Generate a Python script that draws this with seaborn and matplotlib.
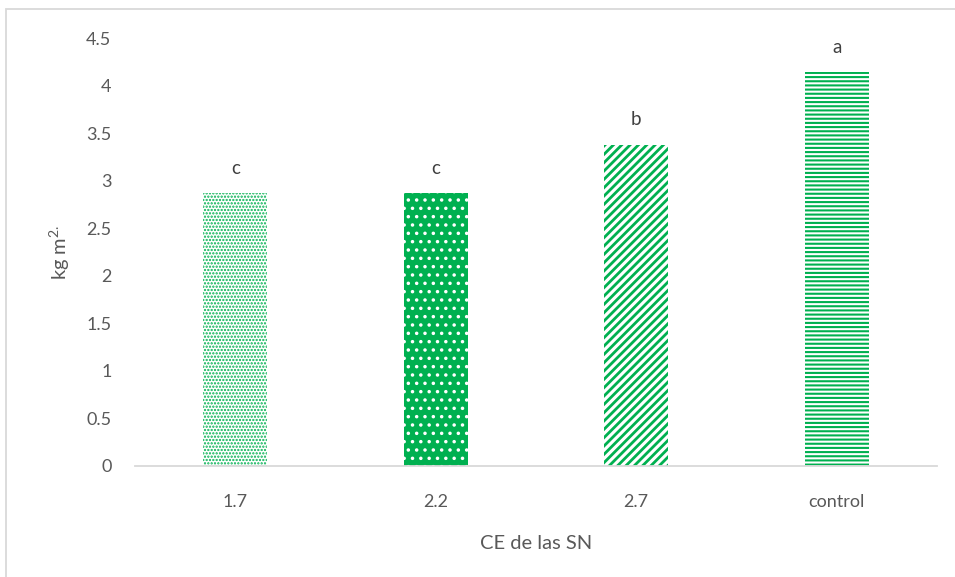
import matplotlib
matplotlib.use("Agg")
import matplotlib.pyplot as plt
import seaborn as sns
import pandas as pd
from matplotlib.patches import Rectangle

# Yield per treatment (kg m-2) and mean-separation letters
categories = ["1.7", "2.2", "2.7", "control"]
values = [2.87, 2.87, 3.38, 4.14]
letters = ["c", "c", "b", "a"]
yticks = [0, 0.5, 1, 1.5, 2, 2.5, 3, 3.5, 4, 4.5]
ytick_labels = ["0", "0.5", "1", "1.5", "2", "2.5", "3", "3.5", "4", "4.5"]

GREEN = "#00B050"
TEXT = "#595959"

sns.set_theme(style="white")
plt.rcParams["font.family"] = ["Lato", "DejaVu Sans"]
plt.rcParams["mathtext.fontset"] = "custom"
plt.rcParams["mathtext.rm"] = "Lato"

df = pd.DataFrame({"CE": categories, "kg": values})

fig = plt.figure(figsize=(9.55, 5.77), dpi=100)
ax = fig.add_axes([0.1414, 0.1924, 0.8396, 0.7416])

sns.barplot(data=df, x="CE", y="kg", color=GREEN, width=0.32,
            saturation=1, ax=ax, errorbar=None)

# fill styles: (face, hatch colour, hatch, hatch linewidth)
styles = [
    ("white", GREEN, ".....", 1.1),
    (GREEN, "white", "..", 1.3),
    ("white", GREEN, "////", 2.0),
    ("white", GREEN, "----", 1.5),
]
for patch, (face, hcol, hatch, hlw) in zip(ax.patches, styles):
    patch.set_facecolor(face)
    patch.set_edgecolor(hcol)
    patch.set_linewidth(0)
    patch.set_hatch(hatch)
    if hasattr(patch, "set_hatch_linewidth"):
        patch.set_hatch_linewidth(hlw)

for i, (v, t) in enumerate(zip(values, letters)):
    ax.text(i, v + 0.17, t, ha="center", va="bottom", fontsize=13.5, color="#404040")

ax.set_ylim(0, 4.5)
ax.set_xlim(-0.5, 3.5)
ax.set_yticks(yticks)
ax.set_yticklabels(ytick_labels)
ax.tick_params(axis="y", labelsize=13, colors=TEXT, length=0, pad=17)
ax.tick_params(axis="x", labelsize=13, colors=TEXT, length=0, pad=20)
ax.set_xlabel("CE de las SN", fontsize=14.5, color=TEXT, labelpad=18)
ax.set_ylabel("kg m$^{\\mathregular{2.}}$", fontsize=14.5, color=TEXT, labelpad=10)

for s in ["top", "right", "left"]:
    ax.spines[s].set_visible(False)
ax.spines["bottom"].set_color("#D9D9D9")
ax.spines["bottom"].set_linewidth(1.3)

# outer chart frame
fig.add_artist(Rectangle((6 / 955, -0.1), 1.2, 1.1 - 9 / 577,
                         transform=fig.transFigure, fill=False,
                         edgecolor="#D9D9D9", linewidth=1.3))

fig.savefig("out.png", dpi=100)
